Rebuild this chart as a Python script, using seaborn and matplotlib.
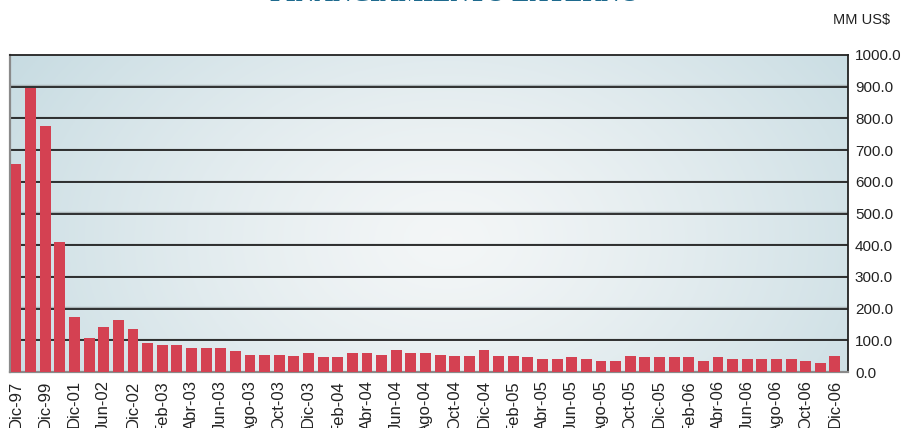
import numpy as np
import matplotlib
matplotlib.use("Agg")
import matplotlib.pyplot as plt
import seaborn as sns

categories = ["Dic-97", "Dic-98", "Dic-99", "Dic-00", "Dic-01", "Mar-02", "Jun-02", "Sep-02", "Dic-02"]
months = ["Ene", "Feb", "Mar", "Abr", "May", "Jun", "Jul", "Ago", "Sep", "Oct", "Nov", "Dic"]
for yy in ["03", "04", "05", "06"]:
    categories += [f"{m}-{yy}" for m in months]

values = [656, 895, 776, 410, 173, 107, 142, 164, 136,
          # 2003
          92, 85, 85, 76, 76, 76, 66, 54, 54, 54, 51, 61,
          # 2004
          46, 46, 61, 61, 55, 70, 61, 61, 55, 51, 51, 68,
          # 2005
          51, 51, 46, 42, 42, 46, 42, 36, 36, 51, 46, 46,
          # 2006
          46, 46, 36, 46, 42, 42, 42, 42, 42, 36, 27, 51]

yticks = [0, 100, 200, 300, 400, 500, 600, 700, 800, 900, 1000]
title = "FINANCIAMIENTO EXTERNO"
unit = "MM US$"

sns.set_style("white")
plt.rcParams['font.family'] = ['Liberation Sans', 'DejaVu Sans']

W, H = 901, 428
fig = plt.figure(figsize=(W / 100, H / 100), dpi=100)
fig.patch.set_facecolor("white")
ax = fig.add_axes([10 / W, (H - 372) / H, (848 - 10) / W, (372 - 55) / H])

# radial gradient background
ny, nx = 200, 400
yy_, xx_ = np.mgrid[0:ny, 0:nx]
cx, cy = nx * 0.52, ny * 0.58
r = np.sqrt(((xx_ - cx) / nx) ** 2 + ((yy_ - cy) / ny * 0.55) ** 2)
r = np.clip(r / r.max(), 0, 1)
c0 = np.array([0.955, 0.965, 0.968])
c1 = np.array([0.78, 0.86, 0.885])
img = c0[None, None, :] * (1 - r[..., None] ** 1.3) + c1[None, None, :] * (r[..., None] ** 1.3)
xl = (-0.41, 56.89)
ax.imshow(img, extent=[xl[0], xl[1], 0, 1000], aspect="auto", zorder=0, origin="upper")

for v in yticks[1:-1]:
    ax.axhline(v + 4, color="#a9b3b6", lw=1.0, zorder=1)
    ax.axhline(v, color="#222222", lw=1.3, zorder=1)

sns.barplot(x=categories, y=values, order=categories, color="#d44152", saturation=1,
            width=0.75, ax=ax, zorder=3, linewidth=0, edgecolor="none")

ax.set_xlim(*xl)
ax.set_ylim(0, 1000)
ax.set_xlabel("")
ax.set_ylabel("")
pos = list(range(0, len(categories), 2))
ax.set_xticks(pos)
ax.set_xticklabels([categories[i] for i in pos], rotation=90, fontsize=12, color="#222222")
ax.yaxis.tick_right()
ax.set_yticks(yticks)
ax.set_yticklabels([f"{v:.1f}" for v in yticks], fontsize=11, color="#222222")
ax.tick_params(axis="both", length=0)
ax.tick_params(axis="y", pad=5)
ax.tick_params(axis="x", pad=6)

for s in ["top", "right"]:
    ax.spines[s].set_color("#222222")
    ax.spines[s].set_linewidth(1.3)
for s in ["left", "bottom"]:
    ax.spines[s].set_color("#8a8a8a")
    ax.spines[s].set_linewidth(1.6)

fig.text(455 / W, 1 - 1 / H, title, ha="center", va="baseline", fontsize=18.5,
         fontweight="bold", color="#1e6a8e", family=["Liberation Serif", "DejaVu Serif"])
fig.text(862 / W, 1 - 20 / H, unit, ha="center", va="center", fontsize=10.5, color="#222222")

fig.savefig("out.png", dpi=100)
